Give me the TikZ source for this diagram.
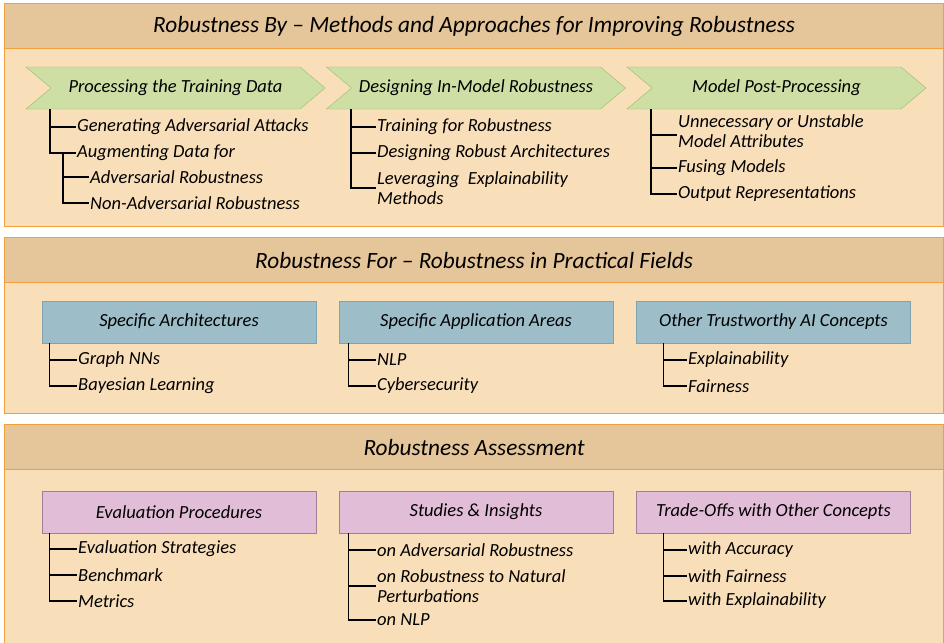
\documentclass[tikz,border=0pt]{standalone}
\usepackage{fontspec}
\setmainfont{Carlito}
\usetikzlibrary{shapes.symbols, positioning}
\definecolor{PanelFill}{HTML}{F9DEBA}
\definecolor{BandFill}{HTML}{E5C59A}
\definecolor{PanelLine}{HTML}{F2A13A}
\definecolor{ChevFill}{HTML}{CDDFA5}
\definecolor{ChevLine}{HTML}{9DBB61}
\definecolor{BlueFill}{HTML}{9DBEC8}
\definecolor{BlueLine}{HTML}{7FA3B2}
\definecolor{PinkFill}{HTML}{E1BDD7}
\definecolor{PinkLine}{HTML}{A07D99}
\tikzset{
  panelbox/.style={rectangle, draw=PanelLine, fill=PanelFill, line width=1.2pt, inner sep=0pt, minimum width=939pt, anchor=north west},
  bandbox/.style={rectangle, draw=PanelLine, fill=BandFill, line width=1.2pt, inner sep=0pt, minimum width=939pt, minimum height=45pt, anchor=north west, font=\itshape\fontsize{23.3}{27}\selectfont},
  chevbox/.style={signal, signal from=west, signal to=east, signal pointer angle=80, draw=ChevLine, fill=ChevFill, minimum width=299pt, minimum height=42pt, inner sep=0pt, font=\itshape\fontsize{18.5}{21}\selectfont},
  catbox/.style={rectangle, minimum width=274pt, minimum height=42pt, inner sep=0pt, font=\itshape\fontsize{18.5}{21}\selectfont},
  bluebox/.style={catbox, draw=BlueLine, fill=BlueFill},
  pinkbox/.style={catbox, draw=PinkLine, fill=PinkFill},
  itemtext/.style={anchor=west, inner sep=1pt, align=left, font=\itshape\fontsize{18.5}{20.5}\selectfont},
  branch/.style={line width=1.3pt, black}
}

\begin{document}
\begin{tikzpicture}[x=1pt, y=-1pt]
  \useasboundingbox (0,0) rectangle (944,642);

  % Panel 1: robustness by
  \node[panelbox, minimum height=223pt] (p1) at (4,3) {};
  \node[bandbox] (t1) at (4,3) {Robustness By -- Methods and Approaches for Improving Robustness};
  \node[chevbox] (pd) at (175.5,88) {Processing the Training Data};
  \node[chevbox] (im) at (476,88) {Designing In-Model Robustness};
  \node[chevbox] (pp) at (776.5,88) {Model Post-Processing};

  \node[itemtext] (gen) at (76,127) {Generating Adversarial Attacks};
  \node[itemtext] (aug) at (76,153) {Augmenting Data for};
  \node[itemtext] (adv) at (89,177) {Adversarial Robustness};
  \node[itemtext] (nadv) at (89,203) {Non-Adversarial Robustness};
  \node[itemtext] (trn) at (376,127) {Training for Robustness};
  \node[itemtext] (arch) at (376,153) {Designing Robust Architectures};
  \node[itemtext] (expl) at (376,188) {Leveraging~ Explainability\\Methods};
  \node[itemtext] (attr) at (677,131) {Unnecessary or Unstable\\Model Attributes};
  \node[itemtext] (fuse) at (677,168) {Fusing Models};
  \node[itemtext] (outr) at (677,194) {Output Representations};

  \coordinate (pdroot) at ([xshift=-26pt]pd.south -| gen.west);
  \coordinate (augroot) at ([xshift=-26pt]aug.west -| adv.west);
  \coordinate (imroot) at ([xshift=-25pt]im.south -| trn.west);
  \coordinate (pproot) at ([xshift=-26pt]pp.south -| fuse.west);
  \draw[branch] (pdroot) |- (gen.west);
  \draw[branch] (pdroot) |- (aug.west);
  \draw[branch] (augroot) |- (adv.west);
  \draw[branch] (augroot) |- (nadv.west);
  \foreach \leaf in {trn, arch, expl} \draw[branch] (imroot) |- (\leaf.west);
  \draw[branch] (pproot) |- ([yshift=-4pt]attr.west);
  \foreach \leaf in {fuse, outr} \draw[branch] (pproot) |- (\leaf.west);

  % Panel 2: robustness for
  \node[panelbox, minimum height=176pt] (p2) at (4,237) {};
  \node[bandbox] (t2) at (4,237) {Robustness For -- Robustness in Practical Fields};
  \node[bluebox] (sa) at (179,322) {Specific Architectures};
  \node[bluebox] (ap) at (476,322) {Specific Application Areas};
  \node[bluebox] (tw) at (773.5,322) {Other Trustworthy AI Concepts};

  \node[itemtext] (gnn) at (77,360) {Graph NNs};
  \node[itemtext] (bay) at (77,386) {Bayesian Learning};
  \node[itemtext] (nlp) at (376,360) {NLP};
  \node[itemtext] (cyb) at (376,386) {Cybersecurity};
  \node[itemtext] (xai) at (687,360) {Explainability};
  \node[itemtext] (fair) at (687,386) {Fairness};

  \coordinate (saroot) at ([xshift=8pt]sa.south west);
  \coordinate (aproot) at ([xshift=10pt]ap.south west);
  \coordinate (twroot) at ([xshift=27pt]tw.south west);
  \foreach \leaf in {gnn, bay} \draw[branch] (saroot) |- (\leaf.west);
  \foreach \leaf in {nlp, cyb} \draw[branch] (aproot) |- (\leaf.west);
  \foreach \leaf in {xai, fair} \draw[branch] (twroot) |- (\leaf.west);

  % Panel 3: assessment
  \node[panelbox, minimum height=225pt] (p3) at (4,424) {};
  \node[bandbox] (t3) at (4,424) {Robustness Assessment};
  \node[pinkbox] (ev) at (179,512) {Evaluation Procedures};
  \node[pinkbox] (st) at (476,512) {Studies \& Insights};
  \node[pinkbox] (to) at (773.5,512) {Trade-Offs with Other Concepts};

  \node[itemtext] (evs) at (77,549) {Evaluation Strategies};
  \node[itemtext] (bench) at (77,575) {Benchmark};
  \node[itemtext] (met) at (77,601) {Metrics};
  \node[itemtext] (oadv) at (376,550) {on Adversarial Robustness};
  \node[itemtext] (onat) at (376,586) {on Robustness to Natural\\Perturbations};
  \node[itemtext] (onlp) at (376,620) {on NLP};
  \node[itemtext] (wacc) at (687,550) {with Accuracy};
  \node[itemtext] (wfair) at (687,576) {with Fairness};
  \node[itemtext] (wxai) at (687,601) {with Explainability};

  \coordinate (evroot) at ([xshift=8pt]ev.south west);
  \coordinate (stroot) at ([xshift=10pt]st.south west);
  \coordinate (toroot) at ([xshift=27pt]to.south west);
  \foreach \leaf in {evs, bench, met} \draw[branch] (evroot) |- (\leaf.west);
  \foreach \leaf in {oadv, onat, onlp} \draw[branch] (stroot) |- (\leaf.west);
  \foreach \leaf in {wacc, wfair, wxai} \draw[branch] (toroot) |- (\leaf.west);
\end{tikzpicture}
\end{document}
